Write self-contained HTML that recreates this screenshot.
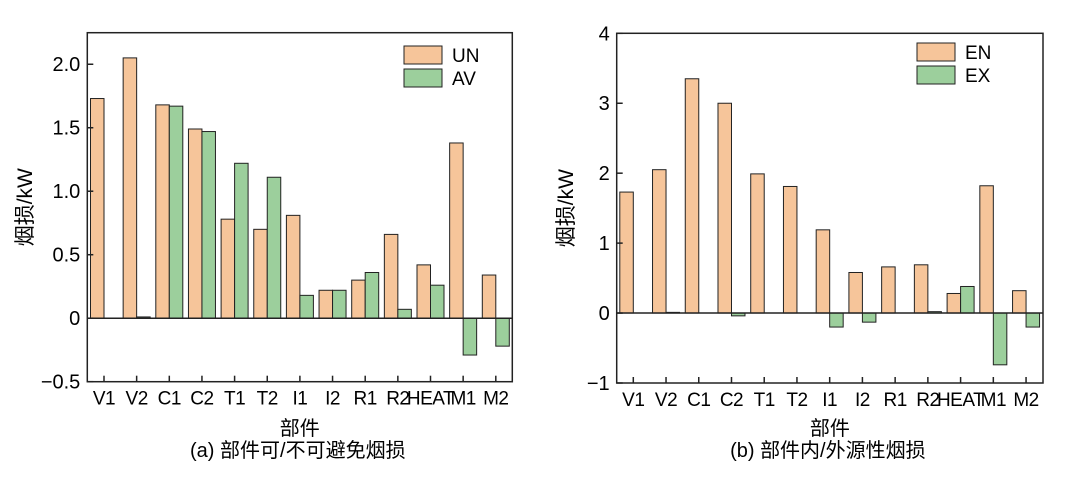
<!DOCTYPE html>
<html><head><meta charset="utf-8"><style>
body{margin:0;background:#fff;}
svg{display:block;font-family:"Liberation Sans","Noto Sans CJK SC",sans-serif;}
</style></head><body>
<svg id="s" width="1068" height="479"></svg>
<script>
const categories=["V1","V2","C1","C2","T1","T2","I1","I2","R1","R2","HEAT","M1","M2"];
const unValues=[1.73,2.05,1.68,1.49,0.78,0.70,0.81,0.22,0.30,0.66,0.42,1.38,0.34];
const avValues=[0,0.01,1.67,1.47,1.22,1.11,0.18,0.22,0.36,0.07,0.26,-0.29,-0.22];
const enValues=[1.73,2.05,3.35,3.0,1.99,1.81,1.19,0.58,0.66,0.69,0.28,1.82,0.32];
const exValues=[0,0.01,0,-0.04,0,0,-0.2,-0.13,0,0.02,0.38,-0.74,-0.2];
const leftTicks=[-0.5,0,0.5,1.0,1.5,2.0];
const leftTickLabels=["\u22120.5","0","0.5","1.0","1.5","2.0"];
const rightTicks=[-1,0,1,2,3,4];
const rightTickLabels=["\u22121","0","1","2","3","4"];
const NS="http://www.w3.org/2000/svg";
const svg=document.getElementById('s');
function mk(t,a,p,txt){const e=document.createElementNS(NS,t);for(const k in a)e.setAttribute(k,a[k]);if(txt!==undefined)e.textContent=txt;(p||svg).appendChild(e);return e;}
function chart(o){
  const g=mk('g',{});
  
  
  const y=v=>o.y0+(v-o.vmin)/(o.vmax-o.vmin)*(o.y1-o.y0);
  const xc=i=>o.xt0+i*o.step;
  const bw=13.5;
  categories.forEach((c,i)=>{
    const a=o.s1[i],b=o.s2[i];
    const r1=mk('rect',{x:xc(i)-bw,y:Math.min(y(a),y(0)),width:bw,height:Math.abs(y(a)-y(0)),fill:'#f6c59a',stroke:'#222','stroke-width':1},g);
    
    
    const r2=mk('rect',{x:xc(i),y:Math.min(y(b),y(0)),width:bw,height:Math.abs(y(b)-y(0)),fill:'#9ccf9c',stroke:'#222','stroke-width':1},g);
    
    
    mk('line',{x1:xc(i),x2:xc(i),y1:o.y0,y2:o.y0-6,stroke:'#222','stroke-width':1.5},g);
    const t=mk('text',{x:xc(i),y:o.y0+23,'text-anchor':'middle','font-size':19,'letter-spacing':-0.5},g,c);
    
    
  });
  mk('line',{x1:o.x0,x2:o.x1,y1:y(0),y2:y(0),stroke:'#222','stroke-width':1.5},g);
  o.ticks.forEach((v,i)=>{
    mk('line',{x1:o.x0,x2:o.x0+6,y1:y(v),y2:y(v),stroke:'#222','stroke-width':1.5},g);
    const t=mk('text',{x:o.x0-7,y:y(v)+7,'text-anchor':'end','font-size':20},g,o.tickLabels[i]);
    
    
  });
  const f=mk('rect',{x:o.x0,y:o.y1,width:o.x1-o.x0,height:o.y0-o.y1,fill:'none',stroke:'#222','stroke-width':1.5},g);
  
  
  const yl=mk('text',{transform:`translate(${o.ylx},${(o.y0+o.y1)/2}) rotate(-90)`,'text-anchor':'middle','font-size':21},g,'烟损/kW');
  
  
  const xm=(o.x0+o.x1)/2;
  const xl=mk('text',{x:xm,y:435,'text-anchor':'middle','font-size':20},g,'部件');
  
  
  const cap=mk('text',{x:xm-2,y:457,'text-anchor':'middle','font-size':20},g,o.caption);
  
  
  [[o.k1,'#f6c59a',0],[o.k2,'#9ccf9c',1]].forEach(([k,c,j])=>{
    const lg=mk('g',{},g);
    
    
    mk('rect',{x:o.lx,y:o.ly+j*23,width:38,height:18,fill:c,stroke:'#222','stroke-width':1},lg);
    mk('text',{x:o.lx+48,y:o.ly+j*23+16,'font-size':19},lg,k.toUpperCase());
  });
}
chart({name:'chart-a',x0:87.3,x1:512.3,y0:381.7,y1:32.7,vmin:-0.5,vmax:2.2484,xt0:104,step:32.65,s1:unValues,s2:avValues,k1:'UN',k2:'AV',ticks:leftTicks,tickLabels:leftTickLabels,caption:'(a) 部件可/不可避免烟损',lx:404,ly:46,ylx:32});
chart({name:'chart-b',x0:616.7,x1:1043,y0:383,y1:33.3,vmin:-1,vmax:4,xt0:633.3,step:32.73,s1:enValues,s2:exValues,k1:'EN',k2:'EX',ticks:rightTicks,tickLabels:rightTickLabels,caption:'(b) 部件内/外源性烟损',lx:917,ly:43,ylx:573});
</script>
</body></html>
